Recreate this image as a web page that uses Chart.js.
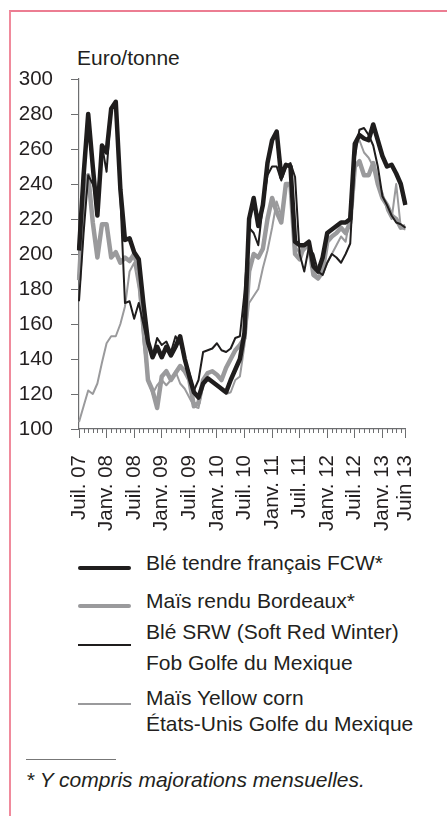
<!DOCTYPE html>
<html>
<head>
<meta charset="utf-8">
<script src="https://cdn.jsdelivr.net/npm/chart.js@4.4.1/dist/chart.umd.min.js"></script>
<style>
  html, body { margin: 0; padding: 0; background: #fff; }
  body { width: 447px; height: 816px; position: relative; overflow: hidden;
         font-family: "Liberation Sans", Arial, sans-serif; color: #231f20; }
  #frame { position: absolute; left: 9px; top: 10px; width: 600px; height: 900px;
           border-top: 2px solid #ec7d92; border-left: 2px solid #f08a9c; }
  #chart { position: absolute; left: 0; top: 0; }
  .txt { position: absolute; font-size: 21px; line-height: 21px; white-space: nowrap; }
  .swatch { position: absolute; left: 78px; width: 53px; }
  #rule { position: absolute; left: 26px; top: 759px; width: 90px; height: 1px; background: #777; }
  #note { font-style: italic; left: 26px; top: 769px; }
</style>
</head>
<body>
<div id="frame"></div>
<div class="txt" style="left:77px; top:47px;">Euro/tonne</div>
<canvas id="chart" width="447" height="545"></canvas>
<div id="legend"></div>
<div id="rule"></div>
<div class="txt" id="note">* Y compris majorations mensuelles.</div>

<script>
// months, Juil. 07 .. Juin 13
const months = [
  'Juil. 07','Août 07','Sept. 07','Oct. 07','Nov. 07','Déc. 07',
  'Janv. 08','Févr. 08','Mars 08','Avr. 08','Mai 08','Juin 08',
  'Juil. 08','Août 08','Sept. 08','Oct. 08','Nov. 08','Déc. 08',
  'Janv. 09','Févr. 09','Mars 09','Avr. 09','Mai 09','Juin 09',
  'Juil. 09','Août 09','Sept. 09','Oct. 09','Nov. 09','Déc. 09',
  'Janv. 10','Févr. 10','Mars 10','Avr. 10','Mai 10','Juin 10',
  'Juil. 10','Août 10','Sept. 10','Oct. 10','Nov. 10','Déc. 10',
  'Janv. 11','Févr. 11','Mars 11','Avr. 11','Mai 11','Juin 11',
  'Juil. 11','Août 11','Sept. 11','Oct. 11','Nov. 11','Déc. 11',
  'Janv. 12','Févr. 12','Mars 12','Avr. 12','Mai 12','Juin 12',
  'Juil. 12','Août 12','Sept. 12','Oct. 12','Nov. 12','Déc. 12',
  'Janv. 13','Févr. 13','Mars 13','Avr. 13','Mai 13','Juin 13'
];

// labels shown under the axis
const tickLabels = ['Juil. 07','Janv. 08','Juil. 08','Janv. 09','Juil. 09','Janv. 10',
  'Juil. 10','Janv. 11','Juil. 11','Janv. 12','Juil. 12','Janv. 13','Juin 13'];

const yTicks = [100, 120, 140, 160, 180, 200, 220, 240, 260, 280, 300];

// Euro/tonne, one value per month
const bleFCW = [
  202, 245, 280, 250, 222, 262,
  258, 283, 287, 237, 208, 209,
  201, 197, 172, 150, 141, 147,
  141, 147, 142, 147, 153, 140,
  130, 121, 118, 126, 129, 127,
  125, 123, 121, 128, 134, 140,
  155, 220, 232, 216, 228, 252,
  265, 270, 244, 251, 250, 207,
  205, 205, 207, 193, 190, 198,
  212, 214, 216, 218, 218, 220,
  263, 268, 266, 265, 274, 265,
  256, 250, 251, 246, 240, 228
];
const maisBordeaux = [
  185, 230, 245, 218, 198, 217,
  217, 198, 201, 195, 198, 196,
  200, 190, 160, 128, 122, 112,
  130, 133, 128, 132, 136, 133,
  128, 113, 115, 128, 132, 133,
  131, 128, 135, 140, 145, 148,
  152, 190, 200, 198, 203, 220,
  232, 224, 218, 240, 240, 200,
  197, 205, 205, 188, 186, 190,
  207, 210, 212, 215, 212, 218,
  250, 253, 245, 245, 252, 240,
  232, 228, 222, 220, 215, 216
];
const bleSRW = [
  173, 212, 245, 240, 232, 262,
  247, 283, 285, 232, 172, 173,
  163, 172, 160, 148, 142, 152,
  148, 150, 144, 153, 149, 140,
  132, 122, 128, 144, 145, 146,
  149, 145, 144, 146, 152, 153,
  178, 215, 212, 205, 228, 245,
  250, 250, 242, 250, 252, 244,
  200, 190, 204, 200, 190, 188,
  195, 200, 198, 195, 200, 206,
  255, 271, 272, 268, 262, 250,
  233, 228, 222, 218, 217, 215
];
const maisYellow = [
  104, 113, 122, 120, 126, 138,
  149, 153, 153, 160, 170, 190,
  195, 180, 150, 128, 120, 125,
  128, 125, 128, 133, 126, 123,
  118, 113, 112, 125, 128, 127,
  125, 122, 120, 121, 128, 130,
  148, 172, 176, 180, 192, 202,
  215, 230, 222, 238, 240, 205,
  200, 202, 205, 190, 187, 188,
  195, 200, 205, 210, 207, 222,
  262, 265, 258, 255, 250, 240,
  235, 225, 220, 240, 215, 214
];

const seriesNames = [
  ['Blé tendre français FCW*'],
  ['Maïs rendu Bordeaux*'],
  ['Blé SRW (Soft Red Winter)', 'Fob Golfe du Mexique'],
  ['Maïs Yellow corn', 'États-Unis Golfe du Mexique']
];

const DARK = '#1f1d1d';
const GREY = '#9a9a9c';
const AXIS = '#6d6e70';

const styles = [
  { color: DARK, width: 4.5, order: 1 },
  { color: GREY, width: 4.5, order: 3 },
  { color: DARK, width: 2, order: 0 },
  { color: GREY, width: 2, order: 4 }
];
const seriesData = [bleFCW, maisBordeaux, bleSRW, maisYellow];

// small monthly ticks under the axis (the long ones come from the grid)
const minorTicks = {
  id: 'minorTicks',
  afterDraw(chart) {
    const x = chart.scales.x;
    const ctx = chart.ctx;
    ctx.save();
    ctx.strokeStyle = AXIS;
    ctx.lineWidth = 1;
    ctx.beginPath();
    months.forEach((m, i) => {
      if (tickLabels.includes(m)) return;
      const px = Math.round(x.getPixelForValue(i)) + 0.5;
      ctx.moveTo(px, x.top);
      ctx.lineTo(px, x.top + 4);
    });
    ctx.stroke();
    ctx.restore();
  }
};

Chart.defaults.font.family = '"Liberation Sans", Arial, sans-serif';
Chart.defaults.font.size = 20.5;
Chart.defaults.color = '#231f20';

new Chart(document.getElementById('chart'), {
  type: 'line',
  data: {
    labels: months,
    datasets: seriesData.map((d, i) => ({
      label: seriesNames[i].join(' '),
      data: d,
      borderColor: styles[i].color,
      borderWidth: styles[i].width,
      order: styles[i].order,
      pointRadius: 0,
      tension: 0,
      fill: false,
      borderJoinStyle: 'round',
      borderCapStyle: 'butt'
    }))
  },
  options: {
    responsive: false,
    animation: false,
    layout: { padding: { top: 79, right: 14, left: 0, bottom: 0 } },
    plugins: { legend: { display: false }, tooltip: { enabled: false } },
    scales: {
      x: {
        offset: false,
        afterFit(scale) { scale.height = 116; },
        border: { display: true, color: AXIS, width: 1.2 },
        grid: {
          drawOnChartArea: false,
          tickLength: 9,
          tickColor: (c) => tickLabels.includes(months[c.index]) ? AXIS : 'rgba(0,0,0,0)'
        },
        ticks: {
          autoSkip: false,
          maxRotation: 90,
          minRotation: 90,
          padding: 17,
          callback: (v, i) => tickLabels.includes(months[i]) ? months[i] : ''
        }
      },
      y: {
        min: yTicks[0],
        max: yTicks[yTicks.length - 1],
        afterFit(scale) { scale.width = 79; },
        afterBuildTicks(scale) { scale.ticks = yTicks.map(v => ({ value: v })); },
        border: { display: true, color: AXIS, width: 1.2 },
        grid: { drawOnChartArea: false, tickLength: 8, tickColor: AXIS },
        ticks: { padding: 18 }
      }
    }
  },
  plugins: [minorTicks]
});

// legend under the chart
const legendTops = [[552], [590], [621, 652], [687, 713]];
const swatchTops = [568, 606, 645, 704];
const legend = document.getElementById('legend');
seriesNames.forEach((lines, i) => {
  const sw = document.createElement('div');
  sw.className = 'swatch';
  sw.style.top = (swatchTops[i] - styles[i].width / 2) + 'px';
  sw.style.height = styles[i].width + 'px';
  sw.style.background = styles[i].color;
  if (styles[i].width > 3) sw.style.borderRadius = '2px';
  legend.appendChild(sw);
  lines.forEach((t, j) => {
    const el = document.createElement('div');
    el.className = 'txt';
    el.style.left = '146px';
    el.style.top = legendTops[i][j] + 'px';
    el.textContent = t;
    legend.appendChild(el);
  });
});
</script>
</body>
</html>
